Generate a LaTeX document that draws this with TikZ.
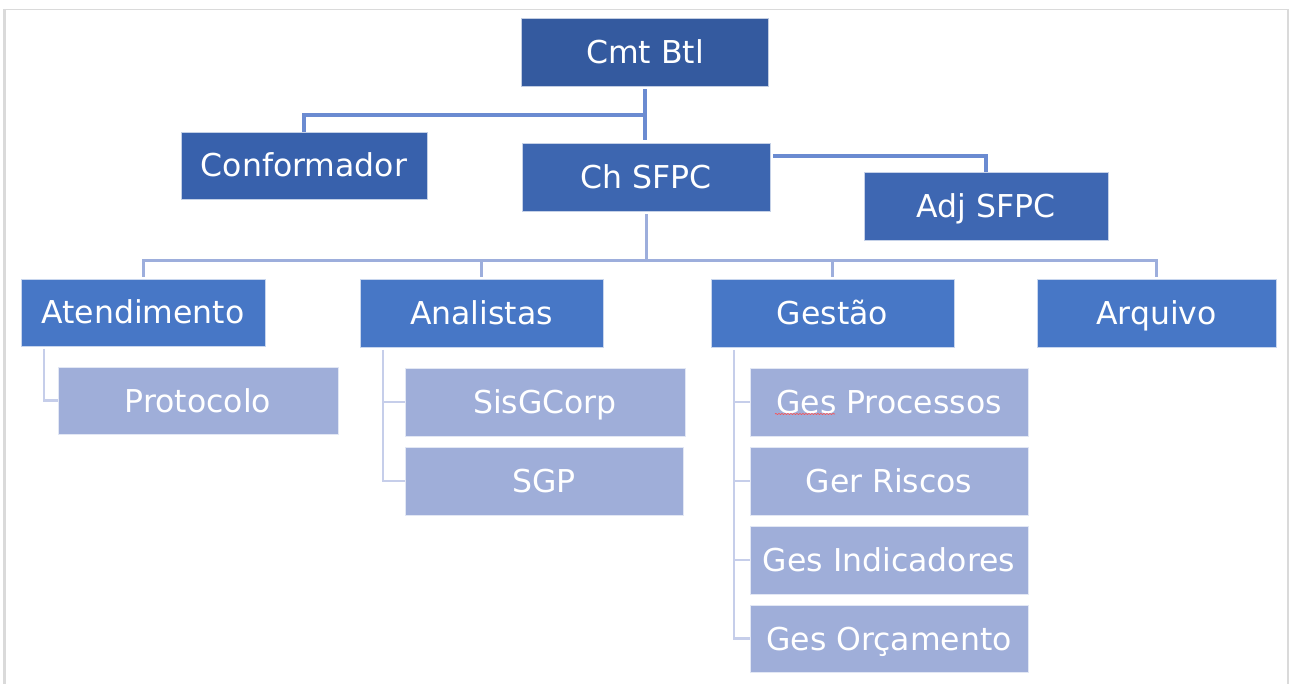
\documentclass[tikz,border=0pt]{standalone}
\usepackage{fontspec}
\setmainfont{DejaVu Sans}
\usetikzlibrary{decorations.pathmorphing}
\definecolor{cTop}{HTML}{345A9F}
\definecolor{cConf}{HTML}{3861AC}
\definecolor{cCh}{HTML}{3D66B0}
\definecolor{cAdj}{HTML}{3E67B2}
\definecolor{cLv2}{HTML}{4777C6}
\definecolor{cLv3}{HTML}{9FAED9}
\definecolor{lnA}{HTML}{6B8BD1}
\definecolor{lnB}{HTML}{9DAEDC}
\definecolor{lnC}{HTML}{C6CEEA}
\definecolor{frameGray}{HTML}{DADADA}
\tikzset{
  box/.style={rectangle, inner sep=0pt, text=white, font=\fontsize{31.5}{36}\selectfont, text height=26pt, text depth=3pt, draw=white!70!#1, line width=0.6pt, fill=#1},
  cA/.style={draw=lnA, line width=3.2pt},
  cB/.style={draw=lnB, line width=3pt},
  cC/.style={draw=lnC, line width=2.8pt},
}
\begin{document}
\begin{tikzpicture}[x=1pt,y=-1pt]
\useasboundingbox (0,0) rectangle (1290,684);
\fill[white] (0,0) rectangle (1290,684);
% frame
\draw[frameGray, line width=2.4pt] (4.5,684) -- (4.5,9.5);
\draw[frameGray, line width=1.4pt] (4.5,9.5) -- (1288,9.5) -- (1288,684);

% level 0/1
\node[box=cTop, minimum width=247pt, minimum height=68pt] (cmt) at (645,52) {Cmt Btl};
\node[box=cConf, minimum width=246pt, minimum height=67pt] (conf) at (304,165.5) {Conformador};
\node[box=cCh, minimum width=248pt, minimum height=68pt] (ch) at (646,177) {Ch SFPC};
\node[box=cAdj, minimum width=244pt, minimum height=68pt] (adj) at (986,206) {Adj SFPC};

% level 2
\node[box=cLv2, minimum width=244pt, minimum height=67pt] (aten) at (143,312.5) {Atendimento};
\node[box=cLv2, minimum width=243pt, minimum height=68pt] (ana) at (481.5,313) {Analistas};
\node[box=cLv2, minimum width=243pt, minimum height=68pt] (ges) at (832.5,313) {Gestão};
\node[box=cLv2, minimum width=239pt, minimum height=68pt] (arq) at (1156.5,313) {Arquivo};

% level 3
\node[box=cLv3, minimum width=280pt, minimum height=67pt] (prot) at (198,400.5) {Protocolo};
\node[box=cLv3, minimum width=280pt, minimum height=68pt] (sisg) at (545,402) {SisGCorp};
\node[box=cLv3, minimum width=278pt, minimum height=68pt] (sgp) at (544,481) {SGP};
\node[box=cLv3, minimum width=278pt, minimum height=68pt] (gproc) at (889,402) {Ges Processos};
\node[box=cLv3, minimum width=278pt, minimum height=68pt] (grisc) at (889,481) {Ger Riscos};
\node[box=cLv3, minimum width=278pt, minimum height=68pt] (gind) at (889,560) {Ges Indicadores};
\node[box=cLv3, minimum width=278pt, minimum height=67pt] (gorc) at (889,638.5) {Ges Orçamento};

% connectors level 1
\draw[cA] ([yshift=-3pt]cmt.south) -- ([yshift=3pt]cmt.south |- ch.north);
\draw[cA] (cmt.south |- 0,115) -| (conf.north);
\draw[cA] ([xshift=3pt]ch.east |- 0,156) -| (adj.north);

% connectors level 2
\draw[cB] ([yshift=-3pt]ch.south) -- (ch.south |- 0,261);
\draw[cB] ([yshift=2pt]aten.north) |- (arq.north |- 0,261) -- ([yshift=2pt]arq.north);
\draw[cB] ([yshift=2pt]ana.north) -- (ana.north |- 0,261);
\draw[cB] ([yshift=2pt]ges.north) -- (ges.north |- 0,261);

% connectors level 3
\coordinate (tAten) at (44,349);
\coordinate (tAna) at (383,350);
\coordinate (tGes) at (734,350);
\draw[cC] (tAten) |- (prot.west);
\draw[cC] (tAna) |- (sgp.west);
\draw[cC] (tAna |- sisg.west) -- (sisg.west);
\draw[cC] (tGes) |- (gorc.west);
\draw[cC] (tGes |- gproc.west) -- (gproc.west);
\draw[cC] (tGes |- grisc.west) -- (grisc.west);
\draw[cC] (tGes |- gind.west) -- (gind.west);

% spell-check mark
\draw[red!70!white, line width=0.6pt, decorate, decoration={snake, amplitude=0.6pt, segment length=3pt}] (775,414) -- (835,414);
\end{tikzpicture}
\end{document}
